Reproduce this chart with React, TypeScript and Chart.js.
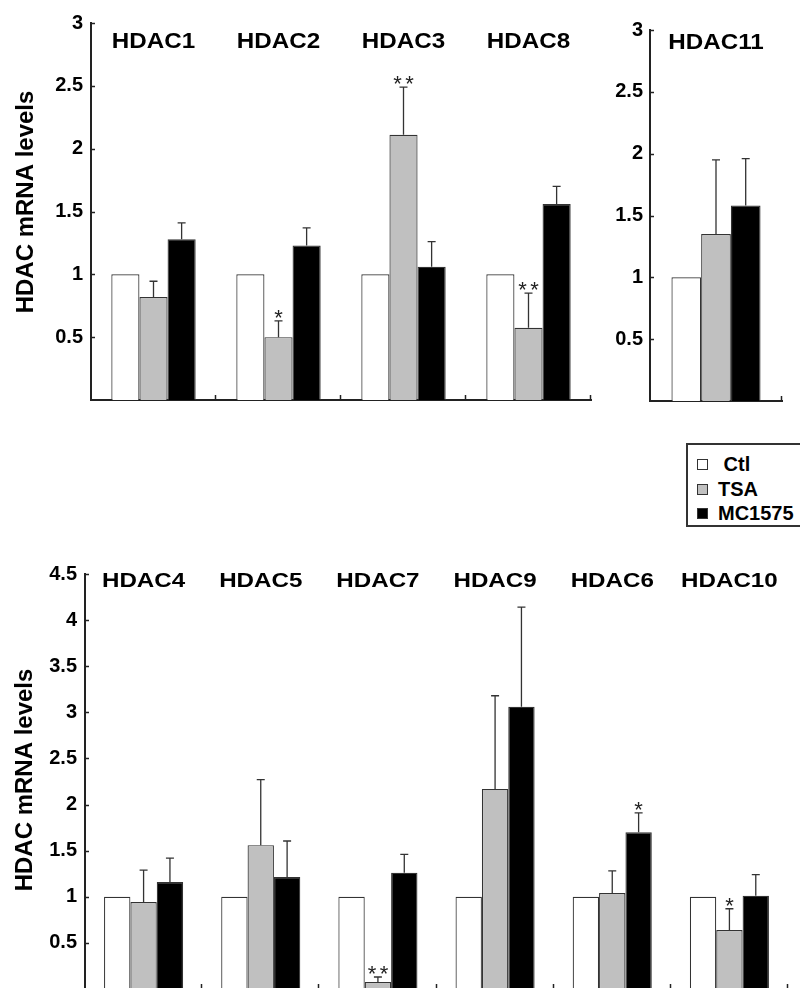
import React, { useEffect, useRef } from "react";
import { Chart, registerables } from "chart.js";
Chart.register(...registerables);

const FONT = '"Liberation Sans", Arial, Helvetica, sans-serif';

// ---- Data ----
const seriesNames = ["Ctl", "TSA", "MC1575"];
const seriesColors = ["#ffffff", "#c0c0c0", "#000000"];

// Top-left panel
const topGenes = ["HDAC1", "HDAC2", "HDAC3", "HDAC8"];
const topCtl = [1, 1, 1, 1];
const topTSA = [0.82, 0.5, 2.11, 0.575];
const topTSAErr = [0.125, 0.13, 0.38, 0.275];
const topMC = [1.28, 1.23, 1.06, 1.56];
const topMCErr = [0.13, 0.14, 0.2, 0.14];
const topTSAStars = ["", "*", "**", "**"];
const topMCStars = ["", "", "", ""];

// Top-right panel
const rightGenes = ["HDAC11"];
const rightCtl = [1];
const rightTSA = [1.35];
const rightTSAErr = [0.6];
const rightMC = [1.58];
const rightMCErr = [0.38];
const rightTSAStars = [""];
const rightMCStars = [""];

// Bottom panel
const bottomGenes = ["HDAC4", "HDAC5", "HDAC7", "HDAC9", "HDAC6", "HDAC10"];
const bottomCtl = [1, 1, 1, 1, 1, 1];
const bottomTSA = [0.944, 1.56, 0.076, 2.17, 1.04, 0.64];
const bottomTSAErr = [0.346, 0.71, 0.054, 1.01, 0.24, 0.23];
const bottomMC = [1.16, 1.215, 1.26, 3.06, 1.7, 1.01];
const bottomMCErr = [0.26, 0.39, 0.2, 1.08, 0.21, 0.23];
const bottomTSAStars = ["", "", "**", "", "", "*"];
const bottomMCStars = ["", "", "", "", "*", ""];

const yAxisTitle = "HDAC mRNA levels";

type PanelCfg = {
  labels: string[];
  ctl: number[];
  tsa: number[];
  mc: number[];
  tsaErr: number[];
  mcErr: number[];
  tsaStars: string[];
  mcStars: string[];
  yMax: number;
  width: number;
  height: number;
  yAxisWidth: number;
  padTop: number;
  padRight: number;
  xAxisHeight: number;
  tickPad: number;
  titleY: number;
  titleSize: number;
  titleScaleX: number;
  yLabel?: { x: number; y: number };
};

function decorPlugin(p: PanelCfg) {
  return {
    id: "panelDecor",
    afterDatasetsDraw(chart: any) {
      const ctx = chart.ctx as CanvasRenderingContext2D;
      const ys = chart.scales.y;
      const errs = [null, p.tsaErr, p.mcErr];
      const stars = [null, p.tsaStars, p.mcStars];
      ctx.save();
      [1, 2].forEach((d) => {
        const meta = chart.getDatasetMeta(d);
        const vals = chart.data.datasets[d].data as number[];
        meta.data.forEach((bar: any, i: number) => {
          const e = (errs[d] as number[])[i] || 0;
          const top = ys.getPixelForValue(vals[i] + e);
          if (e > 0) {
            ctx.strokeStyle = "#333";
            ctx.lineWidth = 1.3;
            ctx.beginPath();
            ctx.moveTo(bar.x, bar.y);
            ctx.lineTo(bar.x, top);
            ctx.moveTo(bar.x - 4, top);
            ctx.lineTo(bar.x + 4, top);
            ctx.stroke();
          }
          const s = (stars[d] as string[])[i];
          if (s) {
            ctx.fillStyle = "#222";
            ctx.font = `22px ${FONT}`;
            ctx.textAlign = "center";
            ctx.textBaseline = "alphabetic";
            const n = s.length;
            for (let k = 0; k < n; k++) {
              const sx = bar.x + (k - (n - 1) / 2) * 12;
              ctx.fillText("*", sx, top + 4.2);
            }
          }
        });
      });
      ctx.restore();
    },
    afterDraw(chart: any) {
      const ctx = chart.ctx as CanvasRenderingContext2D;
      const xs = chart.scales.x;
      const ys = chart.scales.y;
      const area = chart.chartArea;
      ctx.save();
      ctx.strokeStyle = "#222";
      ctx.lineWidth = 1.5;
      // inward y ticks
      ys.ticks.forEach((t: any) => {
        if (t.value <= 0) return;
        const py = Math.round(ys.getPixelForValue(t.value)) + 0.5;
        ctx.beginPath();
        ctx.moveTo(area.left, py);
        ctx.lineTo(area.left + 4, py);
        ctx.stroke();
      });
      // inward x ticks at category boundaries
      const n = p.labels.length;
      const w = (xs.right - xs.left) / n;
      for (let k = 1; k <= n; k++) {
        const px = Math.round(xs.left + k * w) - 0.5;
        ctx.beginPath();
        ctx.moveTo(px, area.bottom);
        ctx.lineTo(px, area.bottom - 5);
        ctx.stroke();
      }
      // panel titles
      ctx.fillStyle = "#000";
      ctx.textAlign = "center";
      ctx.textBaseline = "middle";
      ctx.font = `bold ${p.titleSize}px ${FONT}`;
      p.labels.forEach((lab, i) => {
        const cx = xs.getPixelForValue(i);
        ctx.save();
        ctx.translate(cx, p.titleY);
        ctx.scale(p.titleScaleX, 1);
        ctx.fillText(lab, 0, 0);
        ctx.restore();
      });
      // y axis title
      if (p.yLabel) {
        ctx.save();
        ctx.translate(p.yLabel.x, p.yLabel.y);
        ctx.rotate(-Math.PI / 2);
        ctx.font = `bold 24px ${FONT}`;
        ctx.textAlign = "center";
        ctx.textBaseline = "alphabetic";
        ctx.fillText(yAxisTitle, 0, 0);
        ctx.restore();
      }
      ctx.restore();
    },
  };
}

function Panel({ cfg, left, top }: { cfg: PanelCfg; left: number; top: number }) {
  const ref = useRef<HTMLCanvasElement | null>(null);
  useEffect(() => {
    if (!ref.current) return;
    const p = cfg;
    const series = [p.ctl, p.tsa, p.mc];
    const chart = new Chart(ref.current, {
      type: "bar",
      data: {
        labels: p.labels,
        datasets: series.map((data, i) => ({
          label: seriesNames[i],
          data,
          backgroundColor: seriesColors[i],
          borderColor: "#333",
          borderWidth: 1.2,
          categoryPercentage: 0.675,
          barPercentage: 1,
        })),
      },
      options: {
        responsive: false,
        animation: false,
        devicePixelRatio: 1,
        layout: { padding: { top: p.padTop, right: p.padRight, left: 0, bottom: 0 } },
        plugins: {
          legend: { display: false },
          tooltip: { enabled: false },
          title: { display: false },
        },
        scales: {
          x: {
            type: "category",
            offset: true,
            grid: { display: false, drawTicks: false },
            border: { display: true, color: "#222", width: 2 },
            ticks: { display: false },
            afterFit: (s: any) => {
              s.height = p.xAxisHeight;
            },
          },
          y: {
            min: 0,
            max: p.yMax,
            grid: { display: false, drawTicks: false },
            border: { display: true, color: "#222", width: 2 },
            ticks: {
              stepSize: 0.5,
              padding: p.tickPad,
              color: "#000",
              autoSkip: false,
              font: { family: FONT, size: 20, weight: "bold" },
              callback: (v: any) => (Number(v) === 0 ? "" : String(Number(v))),
            },
            afterFit: (s: any) => {
              s.width = p.yAxisWidth;
            },
          },
        },
      } as any,
      plugins: [decorPlugin(p)],
    });
    return () => chart.destroy();
  }, [cfg]);
  return (
    <canvas
      ref={ref}
      width={cfg.width}
      height={cfg.height}
      style={{ position: "absolute", left, top, width: cfg.width, height: cfg.height }}
    />
  );
}

const topCfg: PanelCfg = {
  labels: topGenes,
  ctl: topCtl,
  tsa: topTSA,
  mc: topMC,
  tsaErr: topTSAErr,
  mcErr: topMCErr,
  tsaStars: topTSAStars,
  mcStars: topMCStars,
  yMax: 3,
  width: 600,
  height: 420,
  yAxisWidth: 91,
  padTop: 23,
  padRight: 9,
  xAxisHeight: 16,
  tickPad: 8,
  titleY: 42,
  titleSize: 22,
  titleScaleX: 1.1,
  yLabel: { x: 33, y: 202 },
};

const rightCfg: PanelCfg = {
  labels: rightGenes,
  ctl: rightCtl,
  tsa: rightTSA,
  mc: rightMC,
  tsaErr: rightTSAErr,
  mcErr: rightMCErr,
  tsaStars: rightTSAStars,
  mcStars: rightMCStars,
  yMax: 3,
  width: 204,
  height: 420,
  yAxisWidth: 54,
  padTop: 30,
  padRight: 18,
  xAxisHeight: 15,
  tickPad: 7,
  titleY: 42.5,
  titleSize: 22,
  titleScaleX: 1.1,
};

const bottomCfg: PanelCfg = {
  labels: bottomGenes,
  ctl: bottomCtl,
  tsa: bottomTSA,
  mc: bottomMC,
  tsaErr: bottomTSAErr,
  mcErr: bottomMCErr,
  tsaStars: bottomTSAStars,
  mcStars: bottomMCStars,
  yMax: 4.5,
  width: 800,
  height: 470,
  yAxisWidth: 85,
  padTop: 34,
  padRight: 12,
  xAxisHeight: 21,
  tickPad: 8,
  titleY: 41,
  titleSize: 21,
  titleScaleX: 1.15,
  yLabel: { x: 32, y: 240 },
};

function Legend() {
  const rowTops = [452, 477, 501];
  return (
    <div
      style={{
        position: "absolute",
        left: 686,
        top: 443,
        width: 130,
        height: 84,
        border: "2px solid #333",
        background: "#fff",
        boxSizing: "border-box",
      }}
    >
      {seriesNames.map((name, i) => (
        <div
          key={name}
          style={{
            position: "absolute",
            left: 9,
            top: rowTops[i] - 445,
            height: 24,
            display: "flex",
            alignItems: "center",
            whiteSpace: "nowrap",
            fontFamily: FONT,
            fontWeight: "bold",
            fontSize: 20,
            color: "#000",
          }}
        >
          <span
            style={{
              display: "inline-block",
              width: 11,
              height: 11,
              boxSizing: "border-box",
              border: "1px solid #333",
              background: seriesColors[i],
              marginRight: 10,
            }}
          />
          <span>{i === 0 ? "\u00a0" + name : name}</span>
        </div>
      ))}
    </div>
  );
}

export default function App() {
  return (
    <div
      style={{
        position: "absolute",
        left: 0,
        top: 0,
        width: 800,
        height: 988,
        overflow: "hidden",
        background: "#fff",
      }}
    >
      <Panel cfg={topCfg} left={0} top={0} />
      <Panel cfg={rightCfg} left={596} top={0} />
      <Legend />
      <Panel cfg={bottomCfg} left={0} top={540} />
    </div>
  );
}
